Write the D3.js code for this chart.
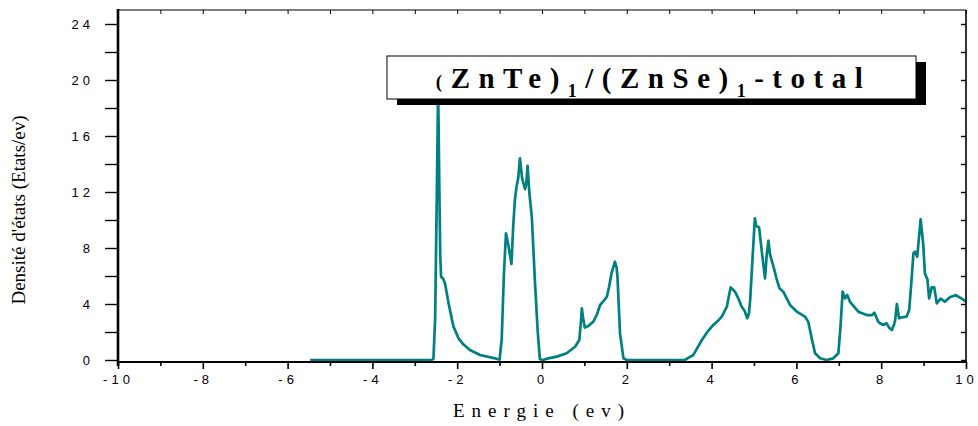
<!DOCTYPE html>
<html>
<head>
<meta charset="utf-8">
<script src="https://cdn.jsdelivr.net/npm/d3@7"></script>
<style>
  body { margin: 0; background: #ffffff; }
  svg { display: block; }
  .tick text { font-family: "Liberation Sans", Arial, sans-serif; font-size: 13px; letter-spacing: 4px; fill: #000; }
</style>
</head>
<body>
<svg id="chart" width="978" height="426"></svg>
<script>
// Total density of states of the (ZnTe)1/(ZnSe)1 superlattice
const energy = [
  -5.47, -2.60, -2.56, -2.52, -2.48, -2.45, -2.42, -2.40, -2.38, -2.33,
  -2.29, -2.20, -2.09, -1.97, -1.85, -1.70, -1.46, -1.11, -1.00, -0.95,
  -0.90, -0.85, -0.80, -0.72, -0.68, -0.64, -0.60, -0.56, -0.52, -0.47,
  -0.40, -0.37, -0.34, -0.30, -0.24, -0.165, -0.10, -0.05, 0.03, 0.15,
  0.35, 0.58, 0.78, 0.88, 0.92, 0.94, 0.97, 1.01, 1.10, 1.21,
  1.29, 1.37, 1.45, 1.53, 1.58, 1.64, 1.72, 1.76, 1.78, 1.84,
  1.92, 2.00, 3.37, 3.45, 3.57, 3.77, 3.90, 4.04, 4.15, 4.24,
  4.36, 4.41, 4.45, 4.55, 4.63, 4.71, 4.78, 4.84, 4.88, 4.91,
  4.97, 5.02, 5.05, 5.08, 5.12, 5.19, 5.26, 5.30, 5.34, 5.38,
  5.46, 5.53, 5.60, 5.69, 5.85, 6.01, 6.20, 6.28, 6.36, 6.44,
  6.56, 6.71, 6.87, 6.99, 7.04, 7.09, 7.15, 7.20, 7.26, 7.46,
  7.66, 7.78, 7.84, 7.93, 7.97, 8.05, 8.13, 8.19, 8.25, 8.30,
  8.33, 8.37, 8.42, 8.48, 8.60, 8.66, 8.71, 8.76, 8.80, 8.85,
  8.93, 8.99, 9.03, 9.09, 9.13, 9.19, 9.25, 9.31, 9.40, 9.50,
  9.62, 9.76, 9.90, 10.00
];
const dos = [
  0.00, 0.00, 0.10, 3.00, 12.0, 19.5, 12.0, 7.50, 5.95, 5.80,
  5.50, 4.00, 2.40, 1.55, 1.10, 0.71, 0.36, 0.12, 0.02, 1.50,
  6.00, 9.05, 8.30, 6.86, 9.50, 11.4, 12.4, 13.0, 14.4, 13.0,
  12.2, 12.6, 13.86, 12.0, 10.2, 5.50, 2.00, 0.05, 0.00, 0.12,
  0.24, 0.48, 0.95, 1.43, 2.80, 3.69, 3.00, 2.31, 2.45, 2.74,
  3.20, 3.93, 4.20, 4.52, 5.20, 6.19, 7.02, 6.60, 5.95, 1.90,
  0.12, 0.00, 0.00, 0.15, 0.36, 1.43, 2.00, 2.50, 2.80, 3.10,
  3.81, 4.60, 5.19, 4.88, 4.40, 3.81, 3.50, 2.98, 3.30, 4.29,
  7.50, 10.12, 9.60, 9.52, 9.48, 7.60, 5.83, 7.50, 8.52, 7.50,
  6.67, 5.83, 5.12, 4.88, 3.93, 3.45, 3.10, 2.74, 1.55, 0.48,
  0.12, 0.00, 0.12, 0.48, 2.38, 4.88, 4.40, 4.64, 4.17, 3.45,
  3.21, 3.20, 3.38, 2.74, 2.62, 2.50, 2.62, 2.30, 2.14, 2.50,
  2.86, 4.00, 2.98, 3.05, 3.10, 3.57, 5.50, 7.62, 7.74, 7.38,
  10.05, 8.33, 6.19, 5.76, 4.40, 5.19, 5.19, 4.05, 4.38, 4.17,
  4.48, 4.64, 4.38, 4.17
];

// Axis ticks and labels
const xMajorTicks  = [-10, -8, -6, -4, -2, 0, 2, 4, 6, 8, 10];
const xMajorLabels = ["-10", "-8", "-6", "-4", "-2", "0", "2", "4", "6", "8", "10"];
const xMinorTicks  = [-9, -7, -5, -3, -1, 1, 3, 5, 7, 9];
const yMajorTicks  = [0, 4, 8, 12, 16, 20, 24];
const yMajorLabels = ["0", "4", "8", "12", "16", "20", "24"];
const yMinorTicks  = [2, 6, 10, 14, 18, 22];
const yRightTicks  = [0, 2, 4, 6, 8, 10, 12, 14, 16, 18, 20, 22, 24];

const xTitle = "Energie (ev)";
const yTitle = "Densité d'états  (Etats/ev)";

const svg = d3.select("#chart");
const x = d3.scaleLinear().domain([-10, 10]).range([118, 966]);
const y = d3.scaleLinear().domain([-0.143, 25]).range([362, 10]);
const [plotLeft, plotRight] = x.range();
const [plotBottom, plotTop] = y.range();

// Curve
const line = d3.line()
  .x((d, i) => x(energy[i]))
  .y(d => y(d));
svg.append("path")
  .datum(dos)
  .attr("d", line)
  .attr("fill", "none")
  .attr("stroke", "#008080")
  .attr("stroke-width", 2.7)
  .attr("stroke-linejoin", "round");

// Bottom axis
const gx = svg.append("g").attr("transform", `translate(0,${plotBottom})`)
  .call(d3.axisBottom(x).tickValues(xMajorTicks)
    .tickFormat((d, i) => xMajorLabels[i]).tickSize(7).tickPadding(6).tickSizeOuter(0));
gx.selectAll(".tick line").attr("stroke-width", 1.6);
gx.select(".domain").remove();
const gxm = svg.append("g").attr("transform", `translate(0,${plotBottom})`)
  .call(d3.axisBottom(x).tickValues(xMinorTicks).tickFormat("").tickSize(4).tickSizeOuter(0));
gxm.select(".domain").remove();
gxm.selectAll(".tick line").attr("stroke-width", 1.6);

// Top axis (inward ticks)
const gt = svg.append("g").attr("transform", `translate(0,${plotTop})`)
  .call(d3.axisTop(x).tickValues(xMajorTicks.concat(xMinorTicks)).tickFormat("").tickSize(-4).tickSizeOuter(0));
gt.select(".domain").remove();

// Left axis
const gy = svg.append("g").attr("transform", `translate(${plotLeft},0)`)
  .call(d3.axisLeft(y).tickValues(yMajorTicks)
    .tickFormat((d, i) => yMajorLabels[i]).tickSize(13).tickPadding(11).tickSizeOuter(0));
gy.select(".domain").remove();
gy.selectAll(".tick line").attr("stroke-width", 1.4);
const gym = svg.append("g").attr("transform", `translate(${plotLeft},0)`)
  .call(d3.axisLeft(y).tickValues(yMinorTicks).tickFormat("").tickSize(13).tickSizeOuter(0));
gym.select(".domain").remove();
gym.selectAll(".tick line").attr("stroke-width", 1.4);

// Right axis (inward ticks)
const gr = svg.append("g").attr("transform", `translate(${plotRight},0)`)
  .call(d3.axisRight(y).tickValues(yRightTicks).tickFormat("").tickSize(-5).tickSizeOuter(0));
gr.select(".domain").remove();
gr.selectAll(".tick line").attr("stroke-width", 1.4);

// Frame
svg.append("line").attr("x1", plotLeft).attr("x2", plotRight).attr("y1", plotTop).attr("y2", plotTop)
  .attr("stroke", "#000").attr("stroke-width", 1.2);
svg.append("line").attr("x1", plotRight).attr("x2", plotRight).attr("y1", plotTop).attr("y2", plotBottom)
  .attr("stroke", "#000").attr("stroke-width", 1.6);
svg.append("line").attr("x1", plotLeft - 1).attr("x2", plotRight + 1).attr("y1", plotBottom).attr("y2", plotBottom)
  .attr("stroke", "#000").attr("stroke-width", 2);
svg.append("line").attr("x1", plotLeft).attr("x2", plotLeft).attr("y1", plotTop - 1).attr("y2", plotBottom + 4)
  .attr("stroke", "#000").attr("stroke-width", 2.6);

// Axis titles
svg.append("text")
  .attr("x", (plotLeft + plotRight) / 2).attr("y", 417)
  .attr("text-anchor", "middle")
  .attr("font-family", "'Liberation Serif', 'Times New Roman', serif")
  .attr("font-size", 19)
  .attr("letter-spacing", "7px")
  .text(xTitle);

svg.append("text")
  .attr("transform", "translate(25,210) rotate(-90)")
  .attr("text-anchor", "middle")
  .attr("font-family", "'Liberation Serif', 'Times New Roman', serif")
  .attr("font-size", 19)
  .text(yTitle);

// Title box with drop shadow
const box = { x: 387, y: 56, w: 529, h: 43 };
svg.append("rect")
  .attr("x", box.x + 10).attr("y", box.y + 6).attr("width", box.w).attr("height", box.h)
  .attr("fill", "#000");
svg.append("rect")
  .attr("x", box.x).attr("y", box.y).attr("width", box.w).attr("height", box.h)
  .attr("fill", "#fff").attr("stroke", "#000").attr("stroke-width", 1);

const title = svg.append("text")
  .attr("x", box.x + box.w / 2 + 2).attr("y", 88)
  .attr("text-anchor", "middle")
  .attr("font-family", "'Liberation Serif', 'Times New Roman', serif")
  .attr("font-weight", "bold")
  .attr("font-size", 29)
  .attr("letter-spacing", "8.5px");
title.append("tspan").attr("font-size", 19).text("(");
title.append("tspan").text("ZnTe)");
title.append("tspan").attr("font-size", 18).attr("dy", 9).text("1");
title.append("tspan").attr("dy", -9).text("/(ZnSe)");
title.append("tspan").attr("font-size", 18).attr("dy", 9).text("1");
title.append("tspan").attr("dy", -9).text("-total");
</script>
</body>
</html>
